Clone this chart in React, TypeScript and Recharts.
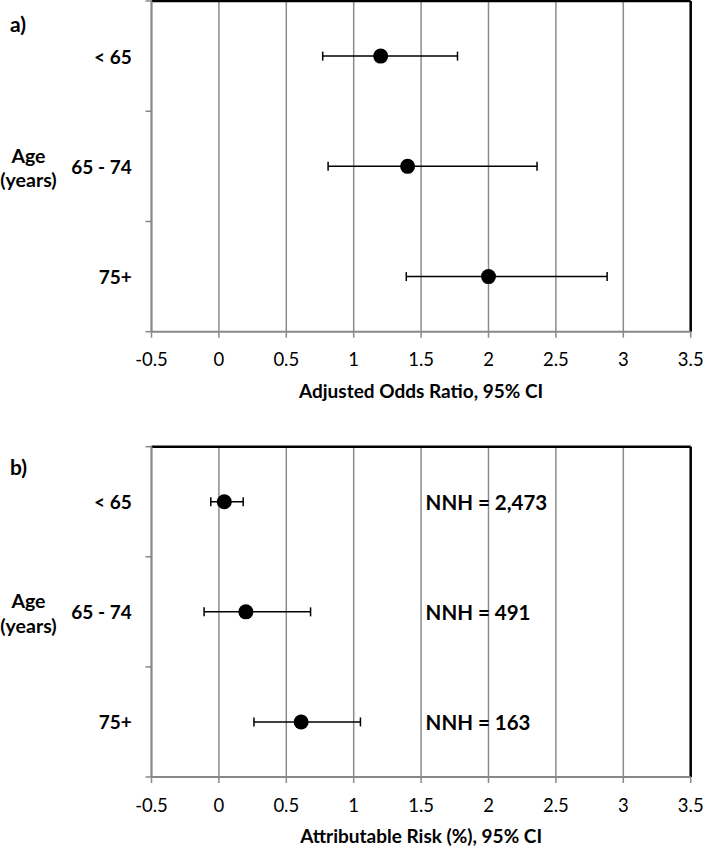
import React from 'react';
import { ScatterChart, Scatter, XAxis, YAxis, CartesianGrid, ErrorBar, ReferenceLine } from 'recharts';

const ageGroups = ['< 65', '65 - 74', '75+'];
const xTicks = [-0.5, 0, 0.5, 1, 1.5, 2, 2.5, 3, 3.5];
const yTicks = [0, 0.5, 1, 1.5, 2, 2.5, 3];

const orPoint = [1.2, 1.4, 2.0];
const orLow = [0.77, 0.81, 1.39];
const orHigh = [1.77, 2.36, 2.88];

const arPoint = [0.04, 0.2, 0.61];
const arLow = [-0.06, -0.11, 0.26];
const arHigh = [0.18, 0.68, 1.05];

const nnhLabels = ['NNH = 2,473', 'NNH = 491', 'NNH = 163'];
const nnhX = 1.5;

const FONT = 'Lato, "Open Sans", sans-serif';

const buildData = (pt: number[], lo: number[], hi: number[]) =>
  ageGroups.map((g, i) => ({ age: g, x: pt[i], y: i + 0.5, err: [pt[i] - lo[i], hi[i] - pt[i]] }));

const orData = buildData(orPoint, orLow, orHigh);
const arData = buildData(arPoint, arLow, arHigh);
const nnhData = nnhLabels.map((l, i) => ({ x: nnhX, y: i + 0.5, label: l }));

const XTick = (props: any) => {
  const { x, y, payload } = props;
  return (
    <g>
      <line x1={x} x2={x} y1={y - 6} y2={y} stroke="#888" strokeWidth={1.5} />
      <text x={x} y={y + 21.5} textAnchor="middle" dominantBaseline="central" fontFamily={FONT} fontSize={18.5} fill="#000">
        {payload.value}
      </text>
    </g>
  );
};

const YTick = (props: any) => {
  const { x, y, payload } = props;
  const v = payload.value;
  if (Number.isInteger(v)) {
    return <line x1={x} x2={x + 6} y1={y} y2={y} stroke="#888" strokeWidth={1.5} />;
  }
  return (
    <text x={x - 13.8} y={y} textAnchor="end" dominantBaseline="central" fontFamily={FONT} fontSize={19} fontWeight="bold" fill="#000">
      {ageGroups[Math.floor(v)]}
    </text>
  );
};

const Dot = (props: any) => <circle cx={props.cx} cy={props.cy} r={7.5} fill="#000" />;

const NNHText = (props: any) => (
  <text x={props.cx + 4.5} y={props.cy} dominantBaseline="central" fontFamily={FONT} fontSize={20.5} fontWeight="bold" fill="#000">
    {props.payload.label}
  </text>
);

type PanelProps = {
  panel: string;
  title: string;
  data: any[];
  withNNH: boolean;
  marginTop: number;
  xAxisHeight: number;
  panelLabelY: number;
};

const Panel = ({ panel, title, data, withNNH, marginTop, xAxisHeight, panelLabelY }: PanelProps) => {
  const yLabel = (p: any) => {
    const vb = p.viewBox;
    const mid = vb.y + vb.height / 2;
    return (
      <g fontFamily={FONT} fontWeight="bold" fill="#000">
        <text x={10} y={panelLabelY} dominantBaseline="central" fontSize={21}>{panel}</text>
        <text x={28.5} y={mid - 11} textAnchor="middle" dominantBaseline="central" fontSize={19.5}>Age</text>
        <text x={28.5} y={mid + 13.5} textAnchor="middle" dominantBaseline="central" fontSize={19.5}>(years)</text>
      </g>
    );
  };
  const xLabel = (p: any) => {
    const vb = p.viewBox;
    return (
      <text x={vb.x + vb.width / 2} y={vb.y + 58.5} textAnchor="middle" dominantBaseline="central" fontFamily={FONT} fontSize={19} fontWeight="bold" fill="#000">
        {title}
      </text>
    );
  };
  return (
    <ScatterChart width={703} height={423} margin={{ top: marginTop, right: 12.3, bottom: 0, left: 0 }}>
      <CartesianGrid horizontal={false} vertical stroke="#8c8c8c" strokeWidth={1.5} />
      <XAxis
        type="number"
        dataKey="x"
        domain={[-0.5, 3.5]}
        ticks={xTicks}
        interval={0}
        allowDataOverflow
        height={xAxisHeight}
        axisLine={{ stroke: '#888', strokeWidth: 2 }}
        tickLine={false}
        tickSize={6}
        tickMargin={0}
        tick={<XTick />}
        label={xLabel}
      />
      <YAxis
        type="number"
        dataKey="y"
        domain={[0, 3]}
        reversed
        ticks={yTicks}
        interval={0}
        allowDataOverflow
        width={151.5}
        axisLine={{ stroke: '#888', strokeWidth: 2 }}
        tickLine={false}
        tickSize={6}
        tickMargin={0}
        tick={<YTick />}
        label={yLabel}
      />
      <ReferenceLine y={0} stroke="#000" strokeWidth={2.5} />
      <ReferenceLine x={3.5} stroke="#000" strokeWidth={2.5} />
      <Scatter data={data} shape={<Dot />} isAnimationActive={false}>
        <ErrorBar dataKey="err" direction="x" width={4.5} stroke="#000" strokeWidth={1.5} isAnimationActive={false} />
      </Scatter>
      {withNNH && <Scatter data={nnhData} shape={<NNHText />} isAnimationActive={false} />}
    </ScatterChart>
  );
};

export default function App() {
  return (
    <div style={{ position: 'absolute', left: 0, top: 0, width: 703, height: 846, background: '#fff' }}>
      <Panel panel="a)" title="Adjusted Odds Ratio, 95% CI" data={orData} withNNH={false} marginTop={1} xAxisHeight={91.3} panelLabelY={23} />
      <Panel panel="b)" title="Attributable Risk (%), 95% CI" data={arData} withNNH={true} marginTop={23.7} xAxisHeight={69} panelLabelY={43.7} />
    </div>
  );
}
